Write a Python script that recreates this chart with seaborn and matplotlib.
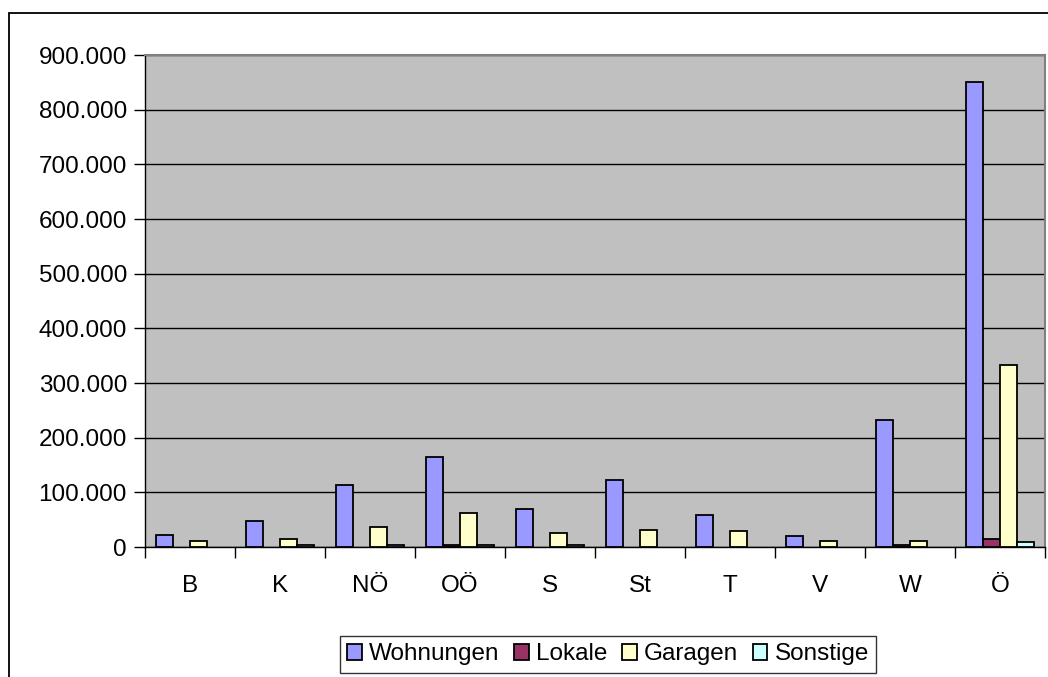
import pandas as pd
import numpy as np
import matplotlib
matplotlib.use("Agg")
import matplotlib.pyplot as plt
import seaborn as sns
from matplotlib.ticker import FuncFormatter, FixedLocator
from matplotlib.patches import Rectangle

# Daten, nan = kein Balken
bundeslaender = ["B", "K", "NÖ", "OÖ", "S", "St", "T", "V", "W", "Ö"]
wohnungen = [22000, 47000, 113000, 164000, 69000, 123000, 58000, 21000, 233000, 851000]
lokale = [np.nan, np.nan, np.nan, 3000, np.nan, np.nan, np.nan, np.nan, 3000, 14000]
garagen = [11000, 14000, 36000, 62000, 26000, 32000, 29000, 11000, 11000, 333000]
sonstige = [np.nan, 3000, 3000, 3000, 3000, np.nan, np.nan, np.nan, np.nan, 10000]
serien = ["Wohnungen", "Lokale", "Garagen", "Sonstige"]
farben = ["#9999FF", "#993366", "#FFFFCC", "#CCFFFF"]

df = pd.DataFrame({
    "land": bundeslaender * 4,
    "art": np.repeat(serien, len(bundeslaender)),
    "wert": wohnungen + lokale + garagen + sonstige,
}).dropna()

sns.set_style("white")
plt.rcParams["font.family"] = ["Liberation Sans", "DejaVu Sans"]
plt.rcParams["text.color"] = "black"
plt.rcParams["xtick.color"] = "black"
plt.rcParams["ytick.color"] = "black"

fig = plt.figure(figsize=(10.48, 6.77), dpi=100)
ax = fig.add_axes([145 / 1048, 1 - 547 / 677, 900 / 1048, 492 / 677])
ax.set_facecolor("#C0C0C0")

sns.barplot(data=df, x="land", y="wert", hue="art", hue_order=serien,
            palette=farben, order=bundeslaender, width=0.76, gap=0,
            edgecolor="black", linewidth=1.3, saturation=1, ax=ax, zorder=3)

ax.set_ylim(0, 900000)
ax.set_xlim(-0.5, len(bundeslaender) - 0.5)
ax.yaxis.set_major_locator(FixedLocator(np.arange(0, 900001, 100000)))
ax.yaxis.set_major_formatter(FuncFormatter(lambda v, p: f"{v:,.0f}".replace(",", ".")))
ax.grid(axis="y", color="black", linewidth=1, zorder=0)
ax.set_axisbelow(True)

ax.xaxis.set_minor_locator(FixedLocator(np.arange(-0.5, len(bundeslaender), 1.0)))
ax.tick_params(axis="x", which="major", length=0, pad=20, labelsize=17.5, labelcolor="black")
ax.tick_params(axis="x", which="minor", length=8, width=1, color="black", direction="out", bottom=True)
ax.tick_params(axis="y", length=8, width=1, color="black", direction="out", left=True, pad=5,
               labelsize=17.5, labelcolor="black")

ax.set_xlabel("")
ax.set_ylabel("")
for s in ["left", "bottom"]:
    ax.spines[s].set_color("black")
    ax.spines[s].set_linewidth(1)
for s in ["top", "right"]:
    ax.spines[s].set_color("#808080")
    ax.spines[s].set_linewidth(1.5)

handles, labels = ax.get_legend_handles_labels()
ax.get_legend().remove()
leg = fig.legend(handles, labels, loc="upper center", bbox_to_anchor=(608 / 1048, 1 - 624 / 677),
                 ncol=4, frameon=True, fancybox=False, edgecolor="black", fontsize=17.5,
                 handlelength=0.6, handleheight=0.6, handletextpad=0.3, columnspacing=0.6,
                 borderpad=0.3, labelcolor="black")
leg.get_frame().set_linewidth(1)

# Rahmen um das Diagramm
fig.patches.append(Rectangle((9 / 1048, -0.05), 1.1, 1 - 13 / 677 + 0.05, transform=fig.transFigure,
                             fill=False, edgecolor="black", linewidth=1.3))

plt.savefig("out.png", dpi=100)
